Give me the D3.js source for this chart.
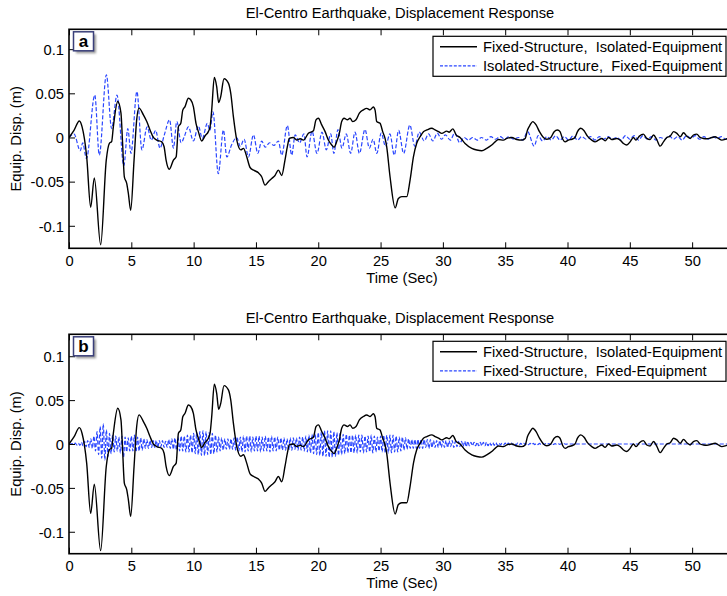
<!DOCTYPE html>
<html>
<head>
<meta charset="utf-8">
<script src="https://cdn.jsdelivr.net/npm/d3@7"></script>
<style>
  html, body { margin: 0; padding: 0; background: #fff; }
  svg text { font-family: "Liberation Sans", Arial, Helvetica, sans-serif; fill: #000; }
</style>
</head>
<body>
<svg id="chart" width="727" height="596"></svg>
<script>
// ---------- axes ----------
const recordLength = 53.76;                     // El-Centro record length (s)
const xTicks = [0, 5, 10, 15, 20, 25, 30, 35, 40, 45, 50];
const yTicks = [-0.1, -0.05, 0, 0.05, 0.1];
const yTickLabels = ["-0.1", "-0.05", "0", "0.05", "0.1"];
const chartTitle = "El-Centro Earthquake, Displacement Response";
const xLabel = "Time (Sec)";
const yLabel = "Equip. Disp. (m)";
const legendA = ["Fixed-Structure,  Isolated-Equipment", "Isolated-Structure,  Fixed-Equipment"];
const legendB = ["Fixed-Structure,  Isolated-Equipment", "Fixed-Structure,  Fixed-Equipment"];

// ---------- Fixed-Structure, Isolated-Equipment (same in both panels) ----------
const fsieT = [0,0.4,0.83,1.05,1.42,1.74,2.03,2.54,2.99,3.24,3.42,3.56,3.91,4.17,4.3,4.44,4.63,4.76,4.95,5.22,
  5.43,5.62,5.97,6.24,6.5,6.77,7.04,7.44,7.63,7.79,8.05,8.38,8.6,8.78,8.97,9.13,9.31,9.58,9.75,9.98,
  10.19,10.38,10.65,10.91,11.18,11.32,11.45,11.66,11.85,12.01,12.17,12.44,12.79,12.98,13.19,13.46,13.78,14.0,14.26,14.53,
  14.85,15.2,15.46,15.73,16.0,16.27,16.53,16.8,17.07,17.33,17.52,17.68,18.0,18.27,18.55,18.81,19.21,19.61,19.82,20.01,
  20.28,20.55,20.81,21.08,21.27,21.48,21.69,21.88,22.07,22.34,22.55,22.76,23.03,23.3,23.62,23.89,24.16,24.42,24.56,24.69,
  24.96,25.17,25.36,25.49,25.76,26.17,26.43,26.7,27.1,27.37,27.64,27.9,28.17,28.44,28.71,29.11,29.38,29.65,29.91,30.31,
  30.5,30.8,31.06,31.38,31.78,32.32,32.72,33.12,33.52,33.92,34.19,34.46,34.86,35.13,35.53,35.93,36.33,36.6,36.79,37.0,
  37.21,37.48,37.75,38.07,38.34,38.66,38.93,39.19,39.4,39.62,39.81,40.07,40.34,40.6,40.8,41.06,41.33,41.6,41.95,42.21,
  42.48,42.75,43.02,43.29,43.56,43.96,44.22,44.49,44.76,45.02,45.29,45.5,45.77,46.09,46.36,46.62,46.9,47.16,47.43,47.7,
  47.97,48.24,48.51,48.78,49.04,49.31,49.57,49.84,50.1,50.37,50.64,50.91,51.18,51.58,51.84,52.11,52.38,52.81,53.76];
const fsieV = [0,0.008,0.0187,0.012,-0.022,-0.079,-0.0457,-0.1215,-0.0256,-0.0066,-0.0047,0.0123,0.0407,0.0275,-0.0066,-0.0445,-0.052,-0.063,-0.0824,-0.0256,
  0.0199,0.0332,0.0256,0.018,0.0085,0,-0.003,-0.005,-0.0105,-0.0256,-0.036,-0.0256,-0.0218,0.0123,0.016,0.031,0.035,0.0445,0.043,0.035,
  0.016,0.0066,-0.004,0.0017,0.0066,0.0123,0.031,0.068,0.0577,0.0396,0.046,0.0665,0.0616,0.05,0.0237,-0.0028,-0.014,-0.0123,-0.0218,-0.034,
  -0.0373,-0.04,-0.0445,-0.054,-0.05,-0.0465,-0.043,-0.037,-0.043,-0.0256,-0.0104,-0.0011,0,-0.0028,-0.0015,-0.003,0.0047,0.0077,0.0199,0.0218,
  0.0142,0.0066,-0.0028,-0.0085,-0.011,-0.0047,0.0047,0.018,0.0218,0.02,0.0218,0.018,0.02,0.0275,0.0313,0.033,0.0313,0.0345,0.031,0.018,
  0.016,0.0066,-0.0011,-0.0104,-0.0445,-0.0797,-0.069,-0.067,-0.067,-0.048,-0.0218,-0.0066,0.0008,0.0066,0.0085,0.0104,0.0085,0.0066,0.0047,0.0072,
  0.006,0.0097,0.003,0,-0.0068,-0.0123,-0.0142,-0.015,-0.0123,-0.0085,-0.005,-0.0023,-0.003,-0.0011,0,-0.0023,-0.003,-0.0011,0.0085,0.0142,
  0.018,0.0142,0.0066,0,-0.002,0,0.0066,0.0085,0.0066,-0.002,-0.005,-0.003,-0.002,0,0.0066,0.0104,0.0077,0.0015,-0.003,-0.005,
  -0.003,-0.0011,-0.0038,0,-0.0023,-0.0011,-0.003,-0.0068,-0.0085,-0.005,0,-0.003,0.0015,0.0038,-0.0011,-0.0023,0.0028,-0.0023,-0.0098,-0.005,
  0,0.0015,0.0066,0.0047,0.0008,0.0053,0.0015,-0.0011,0.0028,0.0038,0,-0.0011,-0.0015,0,0.0008,-0.0011,-0.003,-0.0015,0];

// ---------- Isolated-Structure, Fixed-Equipment (panel a) ----------
const isfeT = [0,0.4,0.9,1.1,1.4,2.07,2.43,3.0,3.42,3.85,4.4,4.72,4.97,5.45,5.85,6.27,6.6,6.95,7.3,7.65,
  8.07,8.38,8.65,9.0,9.25,9.58,9.98,10.38,10.7,11.1,11.3,11.55,11.98,12.39,12.66,13.06,13.46,13.75,14.05,14.4,
  14.8,15.15,15.46,15.75,16.1,16.45,16.8,17.07,17.52,17.87,18.15,18.5,18.85,19.1,19.5,19.9,20.3,20.65,21.0,21.25,
  21.58,21.9,22.25,22.6,22.95,23.3,23.75,24.1,24.4,24.7,25.05,25.4,25.75,26.1,26.45,26.85,27.35,27.75,28.1,28.5,
  28.85,29.2,29.55,29.9,30.2,30.6,30.95,31.35,31.7,32.05,32.4,32.75,33.1,33.5,33.85,34.2,34.6,34.95,35.3,35.7,
  36.05,36.4,36.8,37.32,37.65,38.0,38.35,38.7,39.05,39.4,39.75,40.1,40.45,40.8,41.15,41.5,41.85,42.2,42.55,42.9,
  43.25,43.6,43.95,44.3,44.65,45.0,45.35,45.7,46.05,46.4,46.75,47.1,47.45,47.8,48.15,48.5,48.85,49.2,49.55,49.9,
  50.25,50.6,50.95,51.3,51.65,52.0,52.35,52.7,53.05,53.76];
const isfeV = [0,0.004,-0.015,-0.006,-0.024,0.048,-0.02,0.071,0.01,0.048,-0.032,0.01,-0.018,0.052,-0.014,0.012,-0.003,0.008,-0.012,0.003,
  0.02,-0.012,0.018,-0.006,0.001,0.012,-0.004,0.013,-0.001,0.016,0.008,0.029,-0.041,0.0085,-0.022,-0.008,0,-0.01,-0.002,-0.022,
  0.003,-0.018,-0.004,-0.011,-0.006,-0.009,-0.004,-0.02,0.0135,-0.02,0.003,-0.006,0.004,-0.022,0.007,-0.018,0.006,-0.014,0.004,-0.018,
  0.009,-0.012,0.004,-0.018,0.006,-0.018,0.009,-0.012,-0.002,-0.018,0.005,-0.01,0.004,-0.02,0.008,-0.018,0.014,-0.01,0.006,-0.004,
  0.004,-0.004,0.005,-0.002,0.003,-0.003,0.005,-0.006,0,-0.003,0,-0.003,0,-0.003,0.001,-0.002,0.001,-0.002,0.001,-0.002,
  0,-0.003,0.0066,-0.0098,0.002,-0.004,0.001,-0.003,0.002,-0.003,0.001,-0.003,0.002,-0.003,0.001,-0.002,0.001,-0.003,0.001,-0.002,
  0.001,-0.002,0,-0.003,0.002,-0.002,0.002,-0.003,0.002,-0.002,0.001,-0.003,0,-0.002,0.002,-0.002,0.001,-0.003,0.002,-0.001,
  0.002,-0.002,0.001,-0.002,0.001,-0.001,0.001,-0.002,0,0];

// ---------- Fixed-Structure, Fixed-Equipment (panel b), sampled every dtB seconds, in mm ----------
const dtB = 0.125;
const fsfeMm = [
  0,0,0.5,-0.5,1,-1,1,-1.5,    2,-2,3,-3,4,-4,6,-5,    9,-8,14,-12,20,-16,23,-18,  16,-14,12,-11,10,-9,9,-8,
  8,-10,9,-15,8,-9,7,-8,       9,-8,10,-9,8,-8,7,-7,   6,-5,5,-5,4,-4,4,-4,        4,-4,4,-3,4,-4,3,-4,
  5,-5,6,-6,7,-7,8,-8,         9,-8,9,-9,10,-9,10,-10, 12,-11,13,-12,14,-13,15,-13, 14,-12,13,-12,12,-11,10,-9,
  8,-8,7,-7,6,-6,6,-6,         6,-6,7,-7,8,-8,8,-9,    9,-9,9,-8,9,-9,8,-8,        9,-8,9,-9,8,-8,9,-8,
  8,-9,9,-8,8,-8,8,-7,         7,-7,7,-7,6,-7,7,-7,    7,-6,7,-7,8,-7,8,-8,        9,-9,10,-10,11,-11,12,-12,
  13,-13,14,-14,15,-14,15,-15, 15,-15,14,-14,13,-13,12,-12, 11,-11,11,-10,10,-10,10,-10, 10,-10,10,-9,10,-10,9,-9,
  9,-9,10,-10,9,-9,8,-8,       9,-9,10,-10,10,-10,10,-10, 10,-9,9,-9,8,-8,8,-7,    7,-6,6,-5,5,-5,5,-5,
  5,-5,5,-5,5,-4,5,-5,         5,-4,4,-4,4,-4,4,-4,    4,-4,4,-4,4,-3,4,-4,        3,-3,3,-3,3,-3,3,-3,
  3,-2,2,-2,2,-2,2,-2,         2,-2,2,-2,2,-2,1.5,-1.5, 1.5,-1.5,1.5,-1.5,1,-1,1,-1, 1,-1,1,-1,1,-1,1,-1,
  1,-1,0.8,-0.8,0.8,-0.8,0.8,-0.8, 0.8,-0.8,0.6,-0.6,0.6,-0.6,0.6,-0.6, 0.5,-0.5,0.5,-0.5,0.5,-0.5,0.5,-0.5, 0.4,-0.4,0.4,-0.4,0.3,-0.3,0.3,-0.3
];
const fsfeTailT = [40, 53.76];
const fsfeTailV = [0, 0];

// ---------- drawing ----------
const svg = d3.select("#chart");
const PLOT_L = 69, PLOT_R = 739;
const FONT = 14.7;
const BLACK = "#000";
const BLUE = "#2a46ff";

const x = d3.scaleLinear().domain([0, recordLength]).range([PLOT_L, PLOT_R]);

const zip = (ts, vs) => ts.map((t, i) => ({ t, v: vs[i] }));
const fsie = zip(fsieT, fsieV);
const isfe = zip(isfeT, isfeV);
const fsfe = fsfeMm.map((mm, i) => ({ t: i * dtB, v: mm / 1000 }))
  .concat(zip(fsfeTailT, fsfeTailV));

const defs = svg.append("defs");
defs.append("filter").attr("id", "shadow").attr("x", "-30%").attr("y", "-30%").attr("width", "160%").attr("height", "160%")
  .append("feGaussianBlur").attr("stdDeviation", 1.2);

const panels = [
  { id: "a", top: 29.3, bottom: 248.3, yDom: [-0.1255, 0.1225], legend: legendA, blue: isfe },
  { id: "b", top: 334.3, bottom: 553.7, yDom: [-0.125, 0.125], legend: legendB, blue: fsfe }
];

panels.forEach(p => {
  const y = d3.scaleLinear().domain(p.yDom).range([p.bottom, p.top]);
  const g = svg.append("g");

  defs.append("clipPath").attr("id", "clip-" + p.id)
    .append("rect").attr("x", PLOT_L).attr("y", p.top).attr("width", PLOT_R - PLOT_L).attr("height", p.bottom - p.top);

  const line = d3.line().x(d => x(d.t)).y(d => y(d.v)).curve(d3.curveMonotoneX);
  const plot = g.append("g").attr("clip-path", `url(#clip-${p.id})`);

  plot.append("path").datum(p.blue)
    .attr("d", line).attr("fill", "none").attr("stroke", BLUE)
    .attr("stroke-width", 1.2).attr("stroke-dasharray", "4,2");
  plot.append("path").datum(fsie)
    .attr("d", line).attr("fill", "none").attr("stroke", BLACK)
    .attr("stroke-width", 1.4).attr("stroke-linejoin", "round");

  // axes with inward ticks (bottom/top/left)
  const tickLen = 6;
  const bottomAxis = d3.axisBottom(x).tickValues(xTicks).tickSizeInner(-tickLen).tickSizeOuter(0).tickPadding(5)
    .tickFormat(d3.format("d"));
  const topAxis = d3.axisTop(x).tickValues(xTicks).tickSizeInner(-tickLen).tickSizeOuter(0).tickFormat("");
  const leftAxis = d3.axisLeft(y).tickValues(yTicks).tickSizeInner(-tickLen).tickSizeOuter(0).tickPadding(5)
    .tickFormat((d, i) => yTickLabels[i]);

  const gb = g.append("g").attr("transform", `translate(0,${p.bottom})`).call(bottomAxis);
  const gt = g.append("g").attr("transform", `translate(0,${p.top})`).call(topAxis);
  const gl = g.append("g").attr("transform", `translate(${PLOT_L},0)`).call(leftAxis);
  [gb, gt, gl].forEach(a => {
    a.select(".domain").remove();
    a.selectAll("line").attr("stroke", BLACK).attr("stroke-width", 1);
    a.selectAll("text").attr("font-size", FONT).attr("fill", BLACK)
      .style("font-family", '"Liberation Sans", Arial, sans-serif');
  });
  gb.selectAll("text").attr("y", 7).attr("dy", "0.71em");
  gl.selectAll("text").attr("x", -5).attr("dy", "0.36em");

  // frame
  g.append("rect").attr("x", PLOT_L).attr("y", p.top)
    .attr("width", PLOT_R - PLOT_L).attr("height", p.bottom - p.top)
    .attr("fill", "none").attr("stroke", BLACK).attr("stroke-width", 1.6);

  // title and axis labels
  g.append("text").attr("x", 400).attr("y", p.top - 17).attr("dy", "0.36em")
    .attr("text-anchor", "middle").attr("font-size", FONT).text(chartTitle);
  g.append("text").attr("x", 402).attr("y", p.bottom + 29.5).attr("dy", "0.36em")
    .attr("text-anchor", "middle").attr("font-size", FONT).text(xLabel);
  g.append("text").attr("transform", `translate(16,${(p.top + p.bottom) / 2}) rotate(-90)`)
    .attr("dy", "0.36em").attr("text-anchor", "middle").attr("font-size", FONT).text(yLabel);

  // panel letter with drop shadow
  const bx = 73.5, by = p.top + 2.5, bw = 20, bh = 19;
  g.append("rect").attr("x", bx + 2.5).attr("y", by + 2.5).attr("width", bw).attr("height", bh)
    .attr("fill", "#9a9a9a").attr("filter", "url(#shadow)");
  g.append("rect").attr("x", bx).attr("y", by).attr("width", bw).attr("height", bh)
    .attr("fill", "#fff").attr("stroke", "#3a3f7a").attr("stroke-width", 1.5);
  g.append("text").attr("x", bx + bw / 2).attr("y", by + bh / 2).attr("dy", "0.34em")
    .attr("text-anchor", "middle").attr("font-size", 17).attr("font-weight", "bold").text(p.id);

  // legend
  const lx = 433, ly = p.top + 7, lw = 293, lh = 40;
  const lg = g.append("g");
  lg.append("rect").attr("x", lx).attr("y", ly).attr("width", lw).attr("height", lh)
    .attr("fill", "#fff").attr("stroke", BLACK).attr("stroke-width", 1.2);
  const styles = [
    { stroke: BLACK, w: 1.4, dash: null },
    { stroke: BLUE, w: 1.2, dash: "3,1.6" }
  ];
  p.legend.forEach((name, i) => {
    const ry = ly + 10.5 + i * 19;
    lg.append("line").attr("x1", lx + 7).attr("x2", lx + 44).attr("y1", ry).attr("y2", ry)
      .attr("stroke", styles[i].stroke).attr("stroke-width", styles[i].w)
      .attr("stroke-dasharray", styles[i].dash);
    lg.append("text").attr("x", lx + 50).attr("y", ry).attr("dy", "0.36em")
      .attr("font-size", FONT).style("white-space", "pre").text(name);
  });
});
</script>
</body>
</html>
